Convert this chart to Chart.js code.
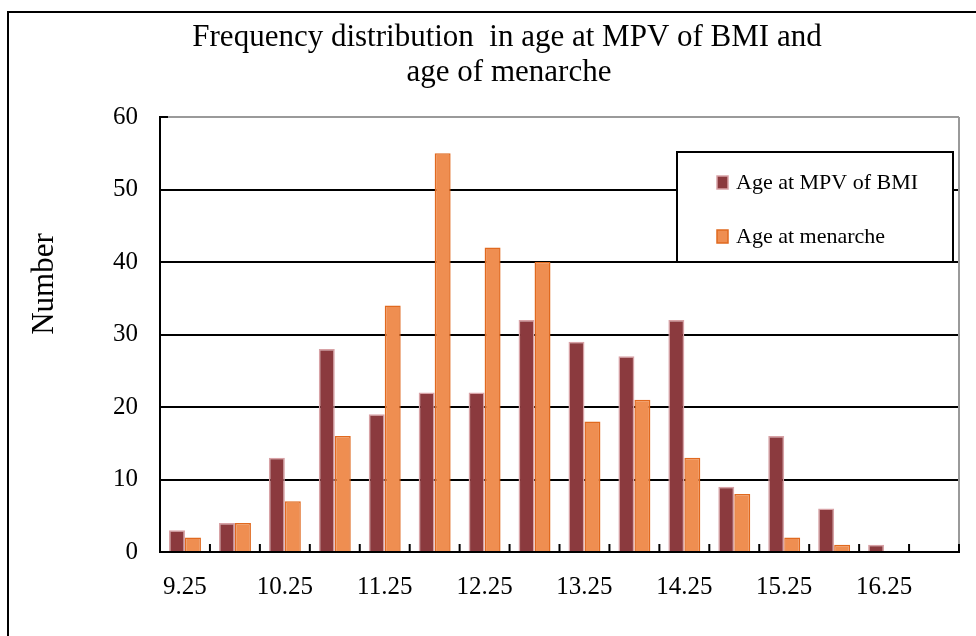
<!DOCTYPE html>
<html><head><meta charset="utf-8">
<script src="https://cdn.jsdelivr.net/npm/chart.js@4"></script>
<style>html,body{margin:0;padding:0;background:#fff;} #wrap{width:976px;height:636px;position:relative}</style>
</head><body><div id="wrap"><canvas id="c" width="976" height="636"></canvas></div>
<script>
const titleLines = ['Frequency distribution  in age at MPV of BMI and', 'age of menarche'];
const yAxisTitle = 'Number';
const categories = ['9.25','9.75','10.25','10.75','11.25','11.75','12.25','12.75','13.25','13.75','14.25','14.75','15.25','15.75','16.25','16.75'];
const seriesNames = ['Age at MPV of BMI', 'Age at menarche'];
const mpvBMI   = [3, 4, 13, 28, 19, 22, 22, 32, 29, 27, 32, 9, 16, 6, 1, null];
const menarche = [2, 4, 7, 16, 34, 55, 42, 40, 18, 21, 13, 8, 2, 1, 0, null];
const yMin = 0, yMax = 60, yStep = 10;

const FONT = '"Liberation Serif", "Times New Roman", serif';

const decor = {
  id: 'decor',
  afterDraw(chart) {
    const ctx = chart.ctx;
    const ca = chart.chartArea;
    const xs = chart.scales.x;
    ctx.save();
    // outer frame
    ctx.strokeStyle = '#000';
    ctx.lineWidth = 2;
    ctx.beginPath();
    ctx.moveTo(8, 640); ctx.lineTo(8, 12); ctx.lineTo(980, 12);
    ctx.stroke();
    // title
    ctx.fillStyle = '#000';
    ctx.font = '31px ' + FONT;
    ctx.textAlign = 'center';
    ctx.textBaseline = 'middle';
    ctx.fillText(titleLines[0], 507, 38);
    ctx.fillText(titleLines[1], 509, 73);
    // y axis title
    ctx.save();
    ctx.translate(45, 284);
    ctx.rotate(-Math.PI / 2);
    ctx.font = '31px ' + FONT;
    ctx.fillText(yAxisTitle, 0, 0);
    ctx.restore();
    // right plot border
    ctx.strokeStyle = '#9a9a9a';
    ctx.lineWidth = 2;
    ctx.beginPath();
    ctx.moveTo(ca.right, ca.top); ctx.lineTo(ca.right, ca.bottom);
    ctx.stroke();
    // x category boundary ticks (inside)
    ctx.strokeStyle = '#000';
    ctx.lineWidth = 2;
    const n = categories.length;
    for (let i = 1; i <= n; i++) {
      let x;
      if (i < n) x = (xs.getPixelForValue(i - 1) + xs.getPixelForValue(i)) / 2;
      else x = ca.right;
      ctx.beginPath();
      ctx.moveTo(x, ca.bottom); ctx.lineTo(x, ca.bottom - 8);
      ctx.stroke();
    }
    // small inner tick at top
    ctx.beginPath();
    ctx.moveTo(ca.left, ca.top); ctx.lineTo(ca.left + 8, ca.top);
    ctx.stroke();
    // legend
    const bx = ca.right - 282, by = ca.top + 35, bw = 276, bh = 110;
    ctx.fillStyle = '#fff';
    ctx.fillRect(bx, by, bw, bh);
    ctx.strokeStyle = '#000';
    ctx.lineWidth = 2;
    ctx.strokeRect(bx, by, bw, bh);
    chart.data.datasets.forEach((ds, i) => {
      const cy = by + 30 + i * 54;
      ctx.fillStyle = ds.backgroundColor;
      ctx.fillRect(bx + 40, cy - 6, 11, 13);
      ctx.strokeStyle = ds.borderColor;
      ctx.lineWidth = 1.5;
      ctx.strokeRect(bx + 40, cy - 6, 11, 13);
      ctx.fillStyle = '#000';
      ctx.font = '22px ' + FONT;
      ctx.textAlign = 'left';
      ctx.textBaseline = 'middle';
      ctx.fillText(ds.label, bx + 59, cy + 1);
    });
    ctx.restore();
  }
};

new Chart(document.getElementById('c'), {
  type: 'bar',
  data: {
    labels: categories,
    datasets: [
      { label: seriesNames[0], data: mpvBMI, backgroundColor: '#8B3A3E', borderColor: '#D8A2A6', borderWidth: 1.5 },
      { label: seriesNames[1], data: menarche, backgroundColor: '#EF8E51', borderColor: '#E0691F', borderWidth: 1.5 }
    ]
  },
  options: {
    responsive: false,
    animation: false,
    devicePixelRatio: 1,
    categoryPercentage: 0.64,
    barPercentage: 1.0,
    layout: { padding: { top: 117, right: 17, bottom: 0, left: 0 } },
    plugins: { legend: { display: false }, title: { display: false }, tooltip: { enabled: false } },
    scales: {
      x: {
        grid: { display: false, drawTicks: false },
        border: { display: true, color: '#000', width: 2 },
        ticks: {
          autoSkip: false, maxRotation: 0, padding: 20,
          color: '#000', font: { family: FONT, size: 25 },
          callback: function (v, i) { return i % 2 === 0 ? categories[i] : ''; }
        },
        afterFit: s => { s.height = 84; }
      },
      y: {
        min: yMin, max: yMax,
        grid: {
          drawTicks: false, lineWidth: 2,
          color: c => (c.tick && c.tick.value === yMax) ? '#9a9a9a' : '#000'
        },
        border: { display: true, color: '#000', width: 2 },
        ticks: { stepSize: yStep, padding: 22, color: '#000', font: { family: FONT, size: 25 } },
        afterFit: s => { s.width = 160; }
      }
    }
  },
  plugins: [decor]
});
</script>
</body></html>
